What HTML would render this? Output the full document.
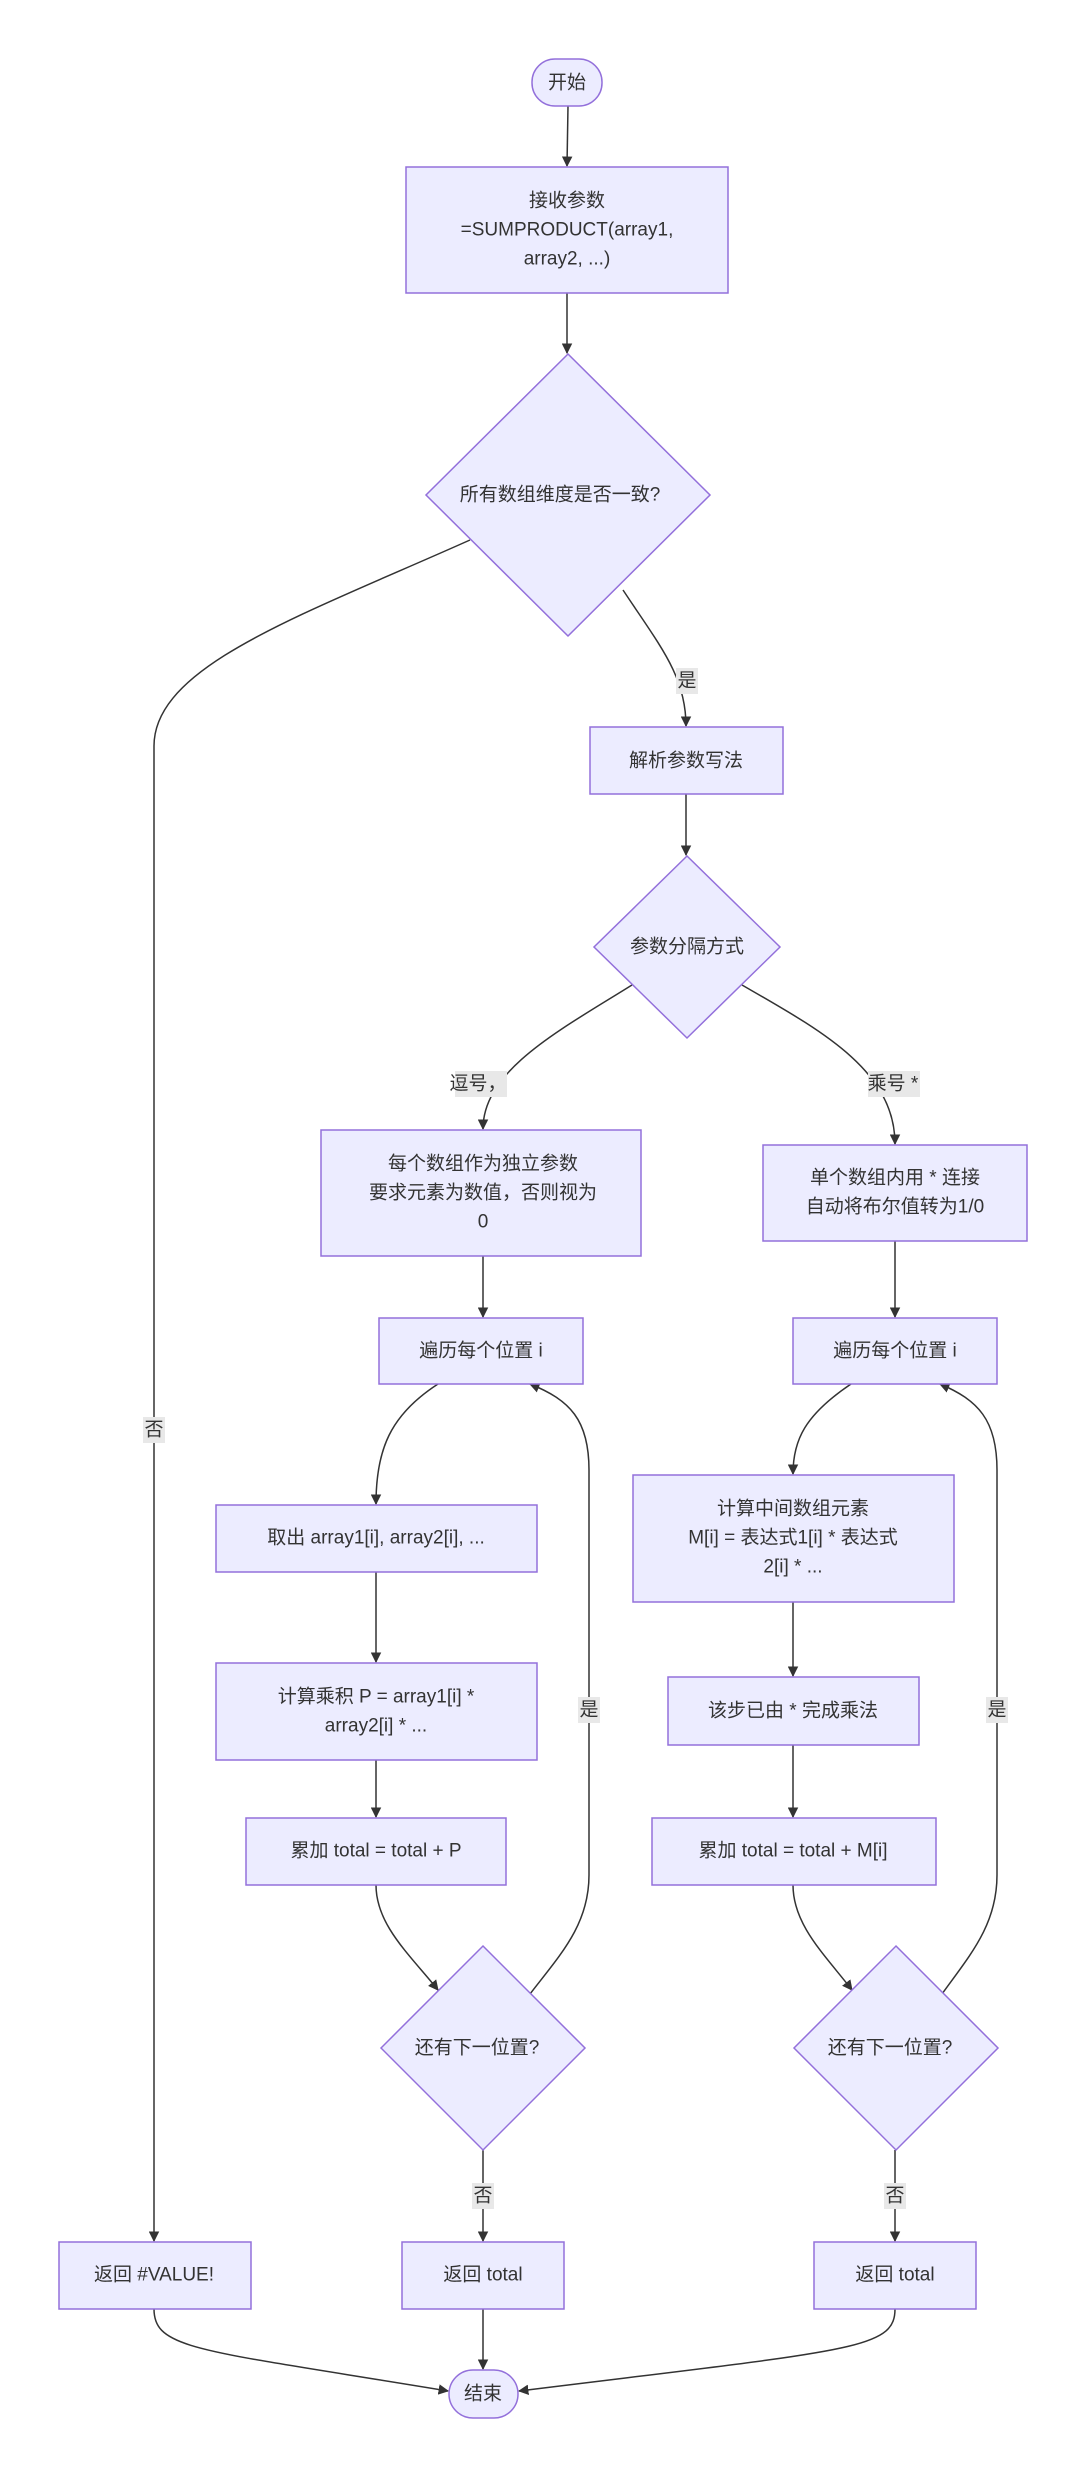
<!DOCTYPE html>
<html><head><meta charset="utf-8"><style>
html,body{margin:0;padding:0;background:#fff;}
svg text{font-family:"Liberation Sans","Noto Sans CJK SC",sans-serif;font-size:19px;fill:#333;text-anchor:middle;dominant-baseline:central;}
.n{fill:#ECECFF;stroke:#9370DB;stroke-width:1.5;}
.e{fill:none;stroke:#333;stroke-width:1.5;marker-end:url(#a);}
.lb{fill:#e8e8e8;}
</style></head><body>
<svg width="1080" height="2474" viewBox="0 0 1080 2474" xmlns="http://www.w3.org/2000/svg">
<defs><marker id="a" viewBox="0 0 10 10" refX="9" refY="5" markerWidth="7" markerHeight="7" orient="auto"><path d="M0,0L10,5L0,10z" fill="#333"/></marker></defs>

<!-- edges -->
<path class="e" d="M568,106 L567,166"/>
<path class="e" d="M567,293 L567,353"/>
<path class="e" d="M470,540 C300,616 154,666 154,746 L154,2241"/>
<path class="e" d="M623,590 C660,646 686,676 686,726"/>
<path class="e" d="M686,794 L686,855"/>
<path class="e" d="M632,985 C560,1030 483,1070 483,1129"/>
<path class="e" d="M742,985 C820,1030 895,1070 895,1144"/>
<path class="e" d="M483,1256 L483,1317"/>
<path class="e" d="M895,1241 L895,1317"/>
<path class="e" d="M438,1384 C390,1415 376,1450 376,1504"/>
<path class="e" d="M376,1572 L376,1662"/>
<path class="e" d="M376,1760 L376,1817"/>
<path class="e" d="M376,1885 C376,1925 410,1955 438,1990"/>
<path class="e" d="M530,1994 C560,1955 589,1925 589,1875 L589,1470 C589,1420 570,1400 530,1384"/>
<path class="e" d="M483,2150 L483,2241"/>
<path class="e" d="M851,1384 C805,1415 793,1440 793,1474"/>
<path class="e" d="M793,1602 L793,1676"/>
<path class="e" d="M793,1745 L793,1817"/>
<path class="e" d="M793,1885 C793,1925 825,1955 852,1990"/>
<path class="e" d="M942,1994 C970,1955 997,1925 997,1875 L997,1470 C997,1420 978,1400 940,1384"/>
<path class="e" d="M895,2150 L895,2241"/>
<path class="e" d="M154,2309 C154,2350 200,2350 448,2391"/>
<path class="e" d="M483,2309 L483,2369"/>
<path class="e" d="M895,2309 C895,2350 850,2350 519,2391"/>

<!-- edge labels -->
<rect class="lb" x="676" y="668" width="22" height="26"/><text x="687" y="681">是</text>
<rect class="lb" x="455" y="1071" width="52" height="26"/><text x="478" y="1084">逗号，</text>
<rect class="lb" x="868" y="1071" width="52" height="26"/><text x="893" y="1084">乘号 *</text>
<rect class="lb" x="143" y="1417" width="22" height="26"/><text x="154" y="1430">否</text>
<rect class="lb" x="578" y="1697" width="22" height="26"/><text x="589" y="1710">是</text>
<rect class="lb" x="986" y="1697" width="22" height="26"/><text x="997" y="1710">是</text>
<rect class="lb" x="472" y="2183" width="22" height="26"/><text x="483" y="2196">否</text>
<rect class="lb" x="884" y="2183" width="22" height="26"/><text x="895" y="2196">否</text>

<!-- nodes -->
<rect class="n" x="532" y="59" width="70" height="47" rx="23"/><text x="567" y="83">开始</text>
<rect class="n" x="406" y="167" width="322" height="126"/>
<text x="567" y="201">接收参数</text><text x="567" y="230">=SUMPRODUCT(array1,</text><text x="567" y="259">array2, ...)</text>
<polygon class="n" points="568,354 710,495 568,636 426,495"/><text x="560" y="495">所有数组维度是否一致?</text>
<rect class="n" x="590" y="727" width="193" height="67"/><text x="686" y="761">解析参数写法</text>
<polygon class="n" points="687,856 780,947 687,1038 594,947"/><text x="687" y="947">参数分隔方式</text>

<rect class="n" x="321" y="1130" width="320" height="126"/>
<text x="483" y="1164">每个数组作为独立参数</text><text x="483" y="1193">要求元素为数值，否则视为</text><text x="483" y="1222">0</text>
<rect class="n" x="763" y="1145" width="264" height="96"/>
<text x="895" y="1178">单个数组内用 * 连接</text><text x="895" y="1207">自动将布尔值转为1/0</text>
<rect class="n" x="379" y="1318" width="204" height="66"/><text x="481" y="1351">遍历每个位置 i</text>
<rect class="n" x="793" y="1318" width="204" height="66"/><text x="895" y="1351">遍历每个位置 i</text>

<rect class="n" x="216" y="1505" width="321" height="67"/><text x="376" y="1538">取出 array1[i], array2[i], ...</text>
<rect class="n" x="216" y="1663" width="321" height="97"/>
<text x="376" y="1697">计算乘积 P = array1[i] *</text><text x="376" y="1726">array2[i] * ...</text>
<rect class="n" x="246" y="1818" width="260" height="67"/><text x="376" y="1851">累加 total = total + P</text>

<rect class="n" x="633" y="1475" width="321" height="127"/>
<text x="793" y="1509">计算中间数组元素</text><text x="793" y="1538">M[i] = 表达式1[i] * 表达式</text><text x="793" y="1567">2[i] * ...</text>
<rect class="n" x="668" y="1677" width="251" height="68"/><text x="793" y="1711">该步已由 * 完成乘法</text>
<rect class="n" x="652" y="1818" width="284" height="67"/><text x="793" y="1851">累加 total = total + M[i]</text>

<polygon class="n" points="483,1946 585,2048 483,2150 381,2048"/><text x="477" y="2048">还有下一位置?</text>
<polygon class="n" points="896,1946 998,2048 896,2150 794,2048"/><text x="890" y="2048">还有下一位置?</text>

<rect class="n" x="59" y="2242" width="192" height="67"/><text x="154" y="2275">返回 #VALUE!</text>
<rect class="n" x="402" y="2242" width="162" height="67"/><text x="483" y="2275">返回 total</text>
<rect class="n" x="814" y="2242" width="162" height="67"/><text x="895" y="2275">返回 total</text>
<rect class="n" x="449" y="2370" width="69" height="48" rx="24"/><text x="483" y="2394">结束</text>
</svg>
</body></html>
